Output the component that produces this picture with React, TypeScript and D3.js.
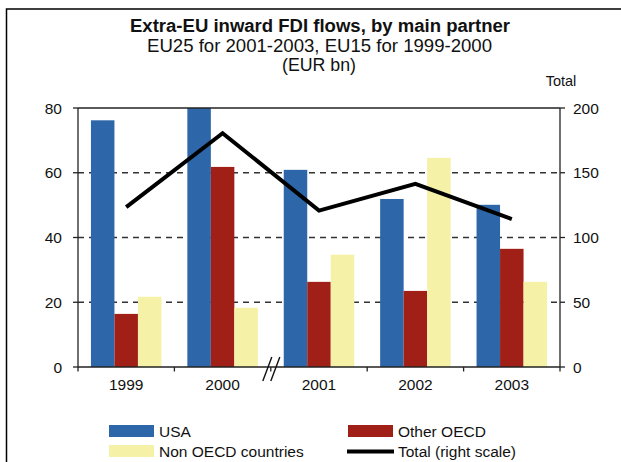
import React from 'react';
import * as d3 from 'd3';

const years = ['1999', '2000', '2001', '2002', '2003'];
const usa = [76.2, 80, 60.9, 51.9, 50.1];
const otherOecd = [16.4, 61.8, 26.3, 23.5, 36.5];
const nonOecd = [21.7, 18.3, 34.7, 64.6, 26.3];
const total = [123.4, 180.5, 120.8, 141.4, 114.2];

const leftTicks = [0, 20, 40, 60, 80];
const rightTicks = [0, 50, 100, 150, 200];
const gridTicks = [20, 40, 60];

const seriesNames = ['USA', 'Other OECD', 'Non OECD countries'];
const seriesValues = [usa, otherOecd, nonOecd];
const colors = ['#2d67a9', '#a01f17', '#f5f2a7'];

const width = 621;
const height = 462;
const margin = { top: 108, right: 61, bottom: 95, left: 78 };
const font = '"Liberation Sans", Arial, sans-serif';

export default function App() {
  const x0 = d3
    .scaleBand()
    .domain(years)
    .range([margin.left, width - margin.right]);
  const bw = x0.bandwidth();
  const groupWidth = 70.5;
  const x1 = d3
    .scaleBand()
    .domain(seriesNames)
    .range([(bw - groupWidth) / 2, (bw + groupWidth) / 2]);

  const y = d3.scaleLinear().domain([0, 80]).range([height - margin.bottom, margin.top]);
  const y2 = d3.scaleLinear().domain([0, 200]).range([height - margin.bottom, margin.top]);

  const left = margin.left;
  const right = width - margin.right;
  const bottom = height - margin.bottom;

  const line = d3
    .line<number>()
    .x((d, i) => x0(years[i])! + bw / 2)
    .y(d => y2(d));

  // category boundaries for the x ticks
  const boundaries = years.map(yr => x0(yr)!).concat([right]);
  const breakX = x0('2001')!;

  return (
    <svg width={width} height={height} style={{ position: 'absolute', left: 0, top: 0 }} fontFamily={font}>
      <rect x={0} y={0} width={width} height={height} fill="#fff" />
      {/* outer frame, runs off the page on right and bottom */}
      <rect x={6.5} y={9} width={width + 20} height={height + 20} fill="none" stroke="#000" strokeWidth={1.5} />

      {/* titles */}
      <text x={320} y={32} textAnchor="middle" fontSize={18.3} fontWeight="bold" fill="#111" textLength={380} lengthAdjust="spacingAndGlyphs">
        Extra-EU inward FDI flows, by main partner
      </text>
      <text x={319.5} y={51.5} textAnchor="middle" fontSize={18.3} fill="#111" textLength={345} lengthAdjust="spacingAndGlyphs">
        EU25 for 2001-2003, EU15 for 1999-2000
      </text>
      <text x={319} y={71} textAnchor="middle" fontSize={18.3} fill="#111" textLength={74} lengthAdjust="spacingAndGlyphs">
        (EUR bn)
      </text>
      <text x={561} y={86} textAnchor="middle" fontSize={14.5} fill="#111">
        Total
      </text>

      {/* dashed grid */}
      {gridTicks.map(t => (
        <line key={t} x1={left} x2={right} y1={y(t)} y2={y(t)} stroke="#333" strokeWidth={1.4} strokeDasharray="6,5" />
      ))}

      {/* bars */}
      {years.map((yr, i) => (
        <g key={yr}>
          {seriesNames.map((s, j) => (
            <rect
              key={s}
              x={x0(yr)! + x1(s)!}
              y={y(seriesValues[j][i])}
              width={x1.bandwidth()}
              height={bottom - y(seriesValues[j][i])}
              fill={colors[j]}
            />
          ))}
        </g>
      ))}

      {/* total line on right scale */}
      <path d={line(total) || ''} fill="none" stroke="#000" strokeWidth={4} strokeLinejoin="miter" />

      {/* axes frame */}
      <line x1={left} x2={right} y1={margin.top} y2={margin.top} stroke="#222" strokeWidth={1.3} />
      <line x1={left} x2={left} y1={margin.top} y2={bottom} stroke="#222" strokeWidth={1.3} />
      <line x1={right} x2={right} y1={margin.top} y2={bottom} stroke="#222" strokeWidth={1.3} />
      <line x1={left} x2={right} y1={bottom} y2={bottom} stroke="#222" strokeWidth={1.5} />

      {leftTicks.map(t => (
        <g key={'l' + t}>
          <line x1={left - 5} x2={left} y1={y(t)} y2={y(t)} stroke="#222" strokeWidth={1.3} />
          <text x={62} y={y(t)} dy="0.36em" textAnchor="end" fontSize={15.5} fill="#111">
            {t}
          </text>
        </g>
      ))}
      {rightTicks.map(t => (
        <g key={'r' + t}>
          <line x1={right} x2={right + 5} y1={y2(t)} y2={y2(t)} stroke="#222" strokeWidth={1.3} />
          <text x={573} y={y2(t)} dy="0.36em" textAnchor="start" fontSize={15.5} fill="#111">
            {t}
          </text>
        </g>
      ))}
      {boundaries.map((bx, i) => (
        <line key={'b' + i} x1={bx} x2={bx} y1={bottom} y2={bottom + 4.5} stroke="#222" strokeWidth={1.3} />
      ))}
      {years.map(yr => (
        <text key={'x' + yr} x={x0(yr)! + bw / 2} y={390} textAnchor="middle" fontSize={15.5} fill="#111">
          {yr}
        </text>
      ))}

      {/* axis break marks */}
      <line x1={breakX - 8} x2={breakX + 1} y1={bottom + 14} y2={bottom - 10} stroke="#111" strokeWidth={1.4} />
      <line x1={breakX} x2={breakX + 9} y1={bottom + 14} y2={bottom - 10} stroke="#111" strokeWidth={1.4} />

      {/* legend */}
      <rect x={109} y={425} width={45} height={12} fill={colors[0]} />
      <text x={159} y={437} fontSize={15.5} fill="#111">{seriesNames[0]}</text>
      <rect x={348} y={425} width={45} height={12} fill={colors[1]} />
      <text x={398} y={437} fontSize={15.5} fill="#111">{seriesNames[1]}</text>
      <rect x={109} y={445} width={45} height={12} fill={colors[2]} />
      <text x={159} y={457} fontSize={15.5} fill="#111">{seriesNames[2]}</text>
      <line x1={347} x2={394} y1={451.5} y2={451.5} stroke="#000" strokeWidth={4} />
      <text x={398} y={457} fontSize={15.5} fill="#111">Total (right scale)</text>
    </svg>
  );
}
